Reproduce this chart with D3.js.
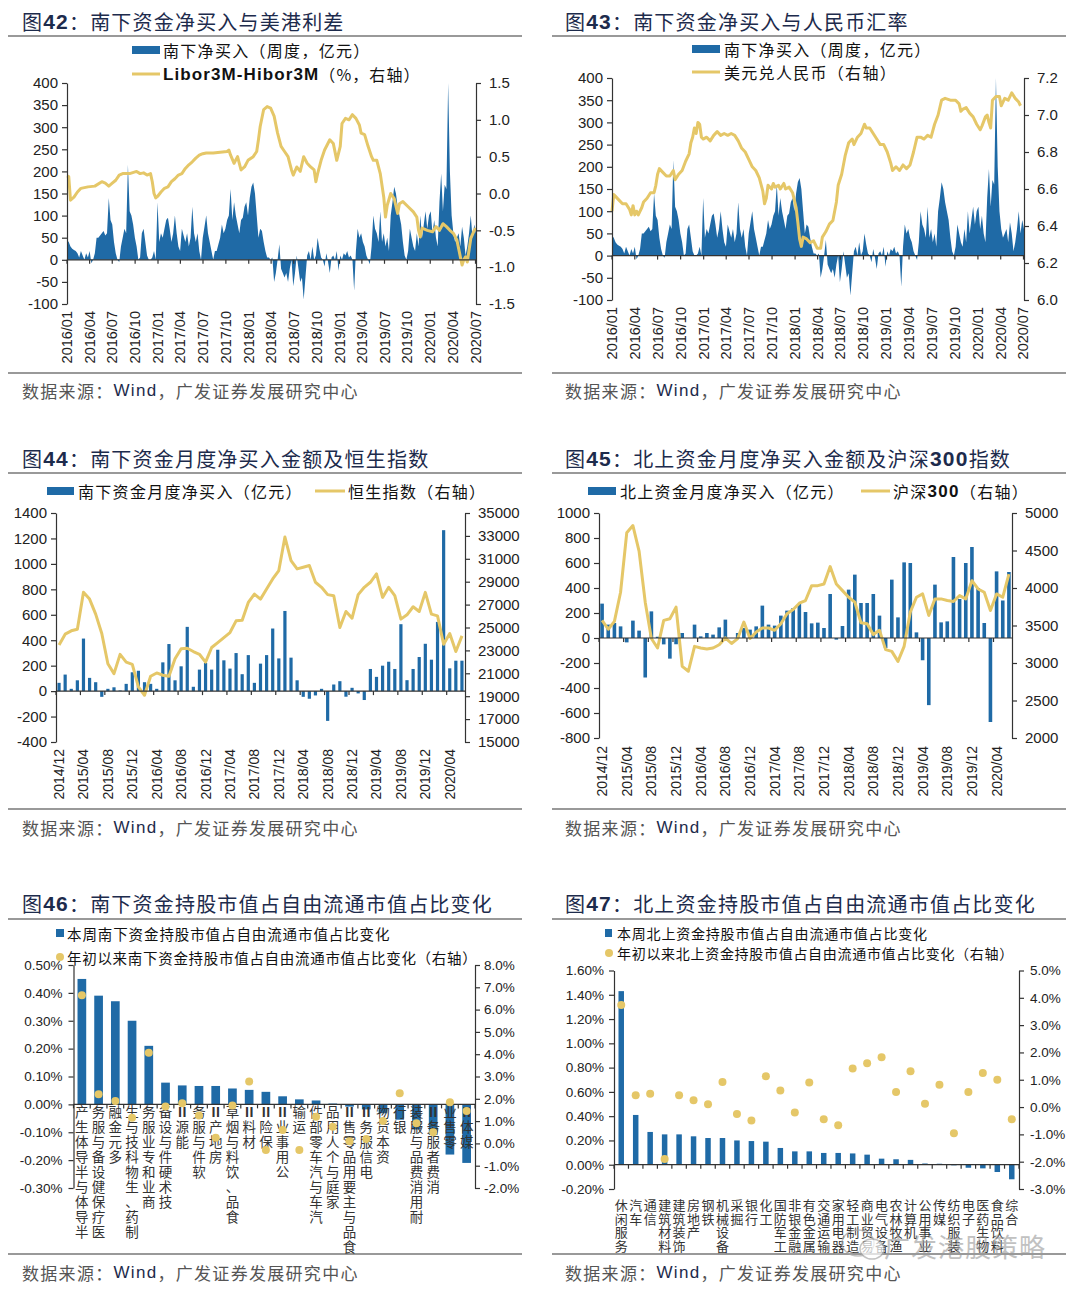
<!DOCTYPE html>
<html><head><meta charset="utf-8">
<script src="https://cdn.jsdelivr.net/npm/d3@7"></script>
<style>body{margin:0;background:#fff}svg{display:block}</style>
</head><body><svg id="c" width="1080" height="1293"></svg>
<script>
// ---------------- DATA ----------------
const quarterLabels = ["2016/01","2016/04","2016/07","2016/10","2017/01","2017/04","2017/07","2017/10","2018/01","2018/04","2018/07","2018/10","2019/01","2019/04","2019/07","2019/10","2020/01","2020/04","2020/07"];
// weekly southbound net buy (100m CNY), week 0 = first week of 2016
const weeklyNet = [
45,40,30,25,22,20,15,5,20,10,0,15,5,
20,-8,0,15,50,50,55,60,65,55,60,140,90,
80,40,15,0,-5,30,50,70,60,215,110,100,80,
50,30,0,5,60,70,40,10,0,0,5,20,0,
130,40,60,50,70,90,95,70,40,60,100,60,30,
20,70,55,40,60,30,50,120,60,40,60,20,0,
50,75,100,60,40,20,0,20,20,35,50,80,60,
70,90,100,160,90,130,100,80,60,90,95,120,130,
100,140,165,175,150,100,50,70,65,40,20,5,5,
0,5,-50,-30,0,35,-20,-30,-40,-30,-50,-20,0,
-60,-30,10,-20,-50,-40,-90,-40,10,20,0,30,0,
10,50,25,5,0,-15,15,-5,-30,5,10,0,20,
-25,10,0,15,10,20,5,10,0,-70,20,70,50,
60,40,30,10,0,-10,30,100,70,60,40,110,40,
60,30,50,20,100,130,165,150,120,100,80,40,10,
0,20,70,50,30,20,60,30,100,50,80,110,70,
100,110,60,90,50,30,130,195,110,170,160,400,200,
100,60,40,50,60,30,75,50,10,30,60,100,50,
80,60];
const liborWeek = [0,1,2,4,6,8,12,16,20,22,24,26,28,30,32,36,40,42,44,46,48,49,50,51,52,54,56,58,60,62,64,66,68,70,72,74,76,78,80,84,88,92,93,94,96,98,99,100,102,104,107,109,110,111,113,115,117,119,121,123,125,127,129,130,132,134,136,138,140,142,143,144,146,148,151,153,155,157,158,160,162,164,166,168,169,171,173,175,176,178,180,182,183,184,186,188,190,191,193,196,199,201,202,203,204,207,210,212,214,216,218,220,222,224,226,227,228,229,230,231,232,234,235];
const liborSpread = [0.24,0.23,-0.09,-0.05,0.02,0.07,0.09,0.10,0.16,0.14,0.10,0.14,0.18,0.25,0.27,0.27,0.30,0.27,0.28,0.25,0.27,0.16,0.0,-0.06,-0.04,0.02,0.07,0.09,0.16,0.20,0.25,0.27,0.34,0.39,0.43,0.48,0.52,0.54,0.55,0.55,0.56,0.57,0.59,0.52,0.41,0.50,0.41,0.32,0.36,0.45,0.50,0.57,0.73,0.91,1.14,1.18,1.16,1.05,0.82,0.64,0.57,0.50,0.32,0.25,0.36,0.30,0.50,0.41,0.36,0.32,0.16,0.27,0.45,0.59,0.73,0.68,0.45,0.64,0.95,1.02,1.00,1.07,1.02,0.93,0.82,0.80,0.64,0.50,0.45,0.45,0.27,-0.05,-0.32,-0.16,0.0,-0.07,-0.27,-0.14,-0.11,-0.18,-0.25,-0.32,-0.50,-0.59,-0.47,-0.50,-0.52,-0.45,-0.50,-0.41,-0.45,-0.50,-0.54,-0.63,-0.86,-0.97,-0.90,-0.86,-0.93,-0.77,-0.61,-0.50,-0.47];
const cnyWeek = [0,1,2,4,6,8,10,11,12,13,14,15,17,18,20,22,24,25,26,27,29,31,33,35,36,38,40,42,44,45,46,47,48,49,50,51,52,54,56,58,60,62,64,66,68,70,72,74,76,78,80,82,84,86,87,88,89,91,92,93,95,96,98,99,101,103,105,106,107,108,109,111,113,115,117,119,120,122,124,126,128,129,131,133,135,137,138,140,142,144,145,147,149,151,153,155,157,159,160,162,164,166,168,170,172,174,176,178,180,182,184,186,188,190,193,196,198,199,200,202,204,206,208,210,211,213,214,215,216,217,219,221,222,224,226,228,230,232,233];
const usdCny = [6.48,6.57,6.56,6.54,6.52,6.52,6.49,6.46,6.51,6.46,6.48,6.46,6.50,6.53,6.55,6.58,6.58,6.62,6.68,6.71,6.69,6.67,6.67,6.70,6.65,6.68,6.70,6.75,6.79,6.85,6.88,6.93,6.90,6.96,6.95,6.88,6.87,6.88,6.86,6.89,6.91,6.89,6.90,6.89,6.90,6.89,6.86,6.82,6.80,6.76,6.72,6.70,6.66,6.59,6.52,6.55,6.62,6.60,6.63,6.61,6.62,6.60,6.63,6.60,6.61,6.58,6.50,6.42,6.33,6.29,6.34,6.33,6.31,6.32,6.28,6.28,6.34,6.37,6.41,6.43,6.53,6.62,6.68,6.78,6.85,6.87,6.84,6.88,6.90,6.95,6.93,6.93,6.90,6.87,6.84,6.84,6.80,6.74,6.70,6.72,6.70,6.73,6.71,6.73,6.80,6.88,6.88,6.87,6.89,6.88,6.95,7.00,7.08,7.09,7.08,7.08,7.06,7.02,7.03,7.04,7.01,6.99,6.95,6.92,6.94,6.99,7.00,6.96,6.93,7.08,7.10,7.10,7.05,7.09,7.08,7.12,7.09,7.07,7.05];

// monthly: 2014/12 ... 2020/06 (67 months)
const monthTickLabels = ["2014/12","2015/04","2015/08","2015/12","2016/04","2016/08","2016/12","2017/04","2017/08","2017/12","2018/04","2018/08","2018/12","2019/04","2019/08","2019/12","2020/04"];
const southMonthly = [65,130,18,85,413,104,70,-45,18,30,5,57,148,160,70,57,18,226,370,85,195,505,34,169,221,169,325,242,177,299,133,283,65,216,283,492,257,630,263,85,-45,-60,-34,18,-234,52,78,-44,26,-18,-70,174,112,200,231,174,526,86,174,268,372,247,544,1265,179,239,239];
const hangSeng = [23480,24420,24710,24850,28070,27480,26170,24470,21840,20970,22650,21980,21780,19810,19080,20740,21030,20830,20740,22270,23150,23190,22900,22660,21980,23250,23680,24120,24560,25580,25640,27190,27920,27480,28360,29240,29970,32900,30850,30120,30260,30410,28950,28510,27870,27780,25000,26400,25820,27870,28510,28950,29680,27630,28510,27780,25730,26110,26810,26400,28070,26170,26020,23540,24470,22900,24270];
const northMonthly = [275,107,120,93,-35,139,59,-316,213,10,-51,-165,-50,40,0,107,13,40,27,85,147,0,40,80,67,93,259,107,99,179,219,240,272,208,117,123,80,352,-13,96,387,507,280,280,352,179,-80,467,165,605,600,45,-178,-537,427,125,133,648,312,600,728,400,120,-672,533,300,528];
const csi300 = [3568,3450,3555,3943,4736,4833,4493,3811,3326,3200,3568,3590,3745,2955,2890,3222,3200,3186,3200,3244,3335,3260,3326,3546,3326,3414,3467,3467,3436,3524,3656,3714,3797,3833,4031,4031,4053,4286,4053,3965,3877,3811,3537,3524,3379,3436,3178,3155,3022,3222,3678,3877,3921,3634,3855,3855,3833,3820,3899,3855,4097,3987,3943,3700,3921,3877,4185];

const cat46 = ["半导体与半导体生产","医疗保健设备与服务","多元金融","制药、生物科技与生","商业和专业服务","技术硬件与设备","能源Ⅱ","软件与服务","房地产Ⅱ","食品、饮料与烟草","材料Ⅱ","保险Ⅱ","公用事业Ⅱ","运输","汽车与汽车零部件","家庭与个人用品","食品与主要用品零售Ⅱ","电信服务Ⅱ","资本货物","银行","耐用消费品与服装","消费者服务Ⅱ","零售业","媒体Ⅱ"];
const week46 = [0.45,0.39,0.37,0.30,0.21,0.078,0.068,0.066,0.066,0.057,0.052,0.045,0.029,0.018,0.014,0.003,-0.008,-0.018,-0.032,-0.055,-0.09,-0.11,-0.18,-0.21];
const ytd46 = [6.64,2.2,1.9,1.15,4.07,1.65,1.8,1.25,0.25,1.7,2.78,-0.3,0.6,-0.3,1.2,0.75,0.1,0.2,1.0,2.25,0.9,0.5,1.85,1.45];

const cat47 = ["休闲服务","汽车","通信","建筑材料","建筑装饰","房地产","钢铁","机械设备","采掘","银行","化工","国防军工","非银金融","有色金属","交通运输","家用电器","轻工制造","商业贸易","电气设备","农林牧渔","计算机","公用事业","传媒","纺织服装","电子","医药生物","食品饮料","综合"];
const week47 = [1.43,0.41,0.27,0.25,0.25,0.234,0.22,0.22,0.20,0.195,0.19,0.138,0.11,0.11,0.097,0.097,0.093,0.083,0.05,0.045,0.04,0.01,0.008,-0.005,-0.025,-0.03,-0.06,-0.12];
const ytd47 = [3.74,0.43,0.49,-1.9,0.43,0.25,0.1,0.92,-0.25,-0.49,1.13,0.61,-0.2,0.9,-0.45,-0.67,1.41,1.6,1.82,0.55,1.31,0.12,0.82,-0.96,0.55,1.25,1.0,-0.45];

// ---------------- STYLE ----------------
const BLUE = "#1f6aa6", GOLD = "#e5c768", NAVY = "#1d2b4c", AX = "#333";
const CJK = "'Noto Sans CJK SC','Noto Sans CJK JP',sans-serif";
const LAT = "'Liberation Sans',Arial,sans-serif";
const svg = d3.select("#c");
svg.append("rect").attr("width",1080).attr("height",1293).attr("fill","#fff");

function rich(x, y, parts, size, opt) {
  opt = opt || {};
  const t = svg.append("text").attr("x", x).attr("y", y).attr("font-size", size)
    .attr("dominant-baseline", "central").attr("fill", opt.fill || "#111")
    .attr("letter-spacing", opt.ls || 0);
  parts.forEach(p => {
    const s = t.append("tspan").text(p.t).attr("font-family", p.lat ? LAT : CJK);
    if (p.b) s.attr("font-weight", "bold");
    if (p.fill) s.attr("fill", p.fill);
    if (p.size) s.attr("font-size", p.size);
  });
  return t;
}

function frame(x0, x1, tx, row, num, titleParts) {
  svg.append("line").attr("x1", x0).attr("x2", x1).attr("y1", row.r1).attr("y2", row.r1).attr("stroke", "#777").attr("stroke-width", 1.3);
  svg.append("line").attr("x1", x0).attr("x2", x1).attr("y1", row.r2).attr("y2", row.r2).attr("stroke", "#777").attr("stroke-width", 1.3);
  rich(tx, row.ty, [{t:"图"},{t:num,lat:true,b:true,size:21},{t:"："}].concat(titleParts), 20, {fill: NAVY, ls: 1.2});
  rich(tx, row.sy, [{t:"数据来源："},{t:"Wind",lat:true,fill:NAVY,size:17},{t:"，广发证券发展研究中心"}], 17, {fill:"#555", ls:1.3});
}

function styleAxis(g, size) {
  g.attr("font-family", LAT).attr("font-size", size);
  g.select(".domain").attr("stroke", AX).attr("stroke-width", 1.2);
  g.selectAll(".tick line").attr("stroke", AX).attr("stroke-width", 1.2);
  g.selectAll("text").attr("fill", "#222");
}

function axes(o) {
  const yL = d3.scaleLinear().domain(o.dL).range([o.B, o.T]);
  const yR = d3.scaleLinear().domain(o.dR).range([o.B, o.T]);
  return {yL, yR};
}
function drawAxes(o, yL, yR, tickXs, labelXs, labels) {
  const gl = svg.append("g").attr("transform", `translate(${o.L},0)`)
    .call(d3.axisLeft(yL).tickValues(o.tL).tickFormat(o.fL).tickSize(5).tickSizeOuter(0).tickPadding(o.padL || 4));
  styleAxis(gl, o.fs);
  const gr = svg.append("g").attr("transform", `translate(${o.R},0)`)
    .call(d3.axisRight(yR).tickValues(o.tR).tickFormat(o.fR).tickSize(5).tickSizeOuter(0).tickPadding(o.padR || 7));
  styleAxis(gr, o.fs);
  svg.append("line").attr("x1", o.L).attr("x2", o.R).attr("y1", yL(0)).attr("y2", yL(0)).attr("stroke", AX).attr("stroke-width", 1.2);
  tickXs.forEach(x => svg.append("line").attr("x1", x).attr("x2", x).attr("y1", yL(0)).attr("y2", yL(0) + 4).attr("stroke", AX).attr("stroke-width", 1.2));
  if (labels) labels.forEach((t, i) => svg.append("text")
    .attr("transform", `translate(${labelXs[i]},${o.labTop}) rotate(-90)`)
    .attr("text-anchor", "end").attr("dominant-baseline", "central")
    .attr("font-family", LAT).attr("font-size", o.fsx).attr("fill", "#222").text(t));
}

// ---------------- FRAMES ----------------
const rows = [
  {ty: 21, r1: 36, r2: 373, sy: 390},
  {ty: 458, r1: 473, r2: 809, sy: 827},
  {ty: 903, r1: 919, r2: 1254, sy: 1272}
];
frame(8, 522, 22, rows[0], "42", [{t:"南下资金净买入与美港利差"}]);
frame(552, 1066, 565, rows[0], "43", [{t:"南下资金净买入与人民币汇率"}]);
frame(8, 522, 22, rows[1], "44", [{t:"南下资金月度净买入金额及恒生指数"}]);
frame(552, 1066, 565, rows[1], "45", [{t:"北上资金月度净买入金额及沪深"},{t:"300",lat:true,b:true,size:21},{t:"指数"}]);
frame(8, 522, 22, rows[2], "46", [{t:"南下资金持股市值占自由流通市值占比变化"}]);
frame(552, 1066, 565, rows[2], "47", [{t:"北上资金持股市值占自由流通市值占比变化"}]);

// week offset of a quarter label
function weekOf(lbl) {
  const [y, m] = lbl.split("/").map(Number);
  return (Date.UTC(y, m - 1, 1) - Date.UTC(2016, 0, 1)) / (7 * 864e5);
}
const fInt = v => String(v);
const f1 = v => v.toFixed(1);

// ---------------- WEEKLY PANELS ----------------
function weeklyPanel(o, lineWeeks, lineVals) {
  const {yL, yR} = axes(o);
  const x = d3.scaleLinear().domain([0, 235]).range([o.L, o.R]);
  const area = d3.area().x((d, i) => x(i)).y0(yL(0)).y1(d => yL(d));
  svg.append("path").datum(weeklyNet).attr("d", area).attr("fill", BLUE);
  const line = d3.line().x(d => x(d[0])).y(d => yR(d[1]));
  svg.append("path").datum(lineWeeks.map((w, i) => [w, lineVals[i]])).attr("d", line)
    .attr("fill", "none").attr("stroke", GOLD).attr("stroke-width", 3).attr("stroke-linejoin", "round");
  const xs = quarterLabels.map(q => x(weekOf(q)));
  drawAxes(o, yL, yR, xs, xs, quarterLabels);
}
const tL42 = [-100,-50,0,50,100,150,200,250,300,350,400];
weeklyPanel({L:67, R:476, T:83, B:304, dL:[-100,400], dR:[-1.5,1.5], tL:tL42, tR:[-1.5,-1,-0.5,0,0.5,1,1.5], fL:fInt, fR:f1, fs:15, fsx:14.5, labTop:311, padR:8}, liborWeek, liborSpread);
weeklyPanel({L:612, R:1024, T:78, B:300, dL:[-100,400], dR:[6.0,7.2], tL:tL42, tR:[6.0,6.2,6.4,6.6,6.8,7.0,7.2], fL:fInt, fR:f1, fs:15, fsx:14.5, labTop:307, padR:8}, cnyWeek, usdCny);

// legends row 1
svg.append("rect").attr("x",132).attr("y",46).attr("width",28).attr("height",8).attr("fill",BLUE);
rich(163, 50, [{t:"南下净买入（周度，亿元）"}], 16, {ls:1.3});
svg.append("line").attr("x1",132).attr("x2",160).attr("y1",74).attr("y2",74).attr("stroke",GOLD).attr("stroke-width",3);
rich(163, 74, [{t:"Libor3M-Hibor3M",lat:true,b:true,size:17},{t:"（%，右轴）"}], 16, {ls:1.1});
svg.append("rect").attr("x",692).attr("y",45).attr("width",28).attr("height",8).attr("fill",BLUE);
rich(724, 49, [{t:"南下净买入（周度，亿元）"}], 16, {ls:1.3});
svg.append("line").attr("x1",692).attr("x2",720).attr("y1",72).attr("y2",72).attr("stroke",GOLD).attr("stroke-width",3);
rich(724, 72, [{t:"美元兑人民币（右轴）"}], 16, {ls:1.3});

// ---------------- MONTHLY PANELS ----------------
function monthlyPanel(o, bars, line) {
  const {yL, yR} = axes(o);
  const n = bars.length;
  const x = d3.scaleLinear().domain([-0.5, n - 0.5]).range([o.L, o.R]);
  svg.append("g").selectAll("rect").data(bars).join("rect")
    .attr("x", (d, i) => x(i) - o.bw / 2).attr("width", o.bw)
    .attr("y", d => Math.min(yL(d), yL(0))).attr("height", d => Math.abs(yL(d) - yL(0)))
    .attr("fill", BLUE);
  svg.append("path").datum(line).attr("d", d3.line().x((d, i) => x(i)).y(d => yR(d)))
    .attr("fill", "none").attr("stroke", GOLD).attr("stroke-width", 3).attr("stroke-linejoin", "round");
  const idx = monthTickLabels.map((_, k) => k * 4);
  drawAxes(o, yL, yR, idx.map(i => x(i - 0.5)), idx.map(i => x(i)), monthTickLabels);
}
monthlyPanel({L:56, R:465, T:513, B:742, dL:[-400,1400], dR:[15000,35000], tL:d3.range(-400,1401,200), tR:d3.range(15000,35001,2000), fL:fInt, fR:fInt, fs:15, fsx:14, labTop:749, bw:3.2, padR:8}, southMonthly, hangSeng);
monthlyPanel({L:599, R:1012, T:513, B:738, dL:[-800,1000], dR:[2000,5000], tL:d3.range(-800,1001,200), tR:d3.range(2000,5001,500), fL:fInt, fR:fInt, fs:15, fsx:14, labTop:746, bw:3.6, padR:8}, northMonthly, csi300);

// legends row 2
svg.append("rect").attr("x",47).attr("y",487).attr("width",27).attr("height",8).attr("fill",BLUE);
rich(78, 491, [{t:"南下资金月度净买入（亿元）"}], 16, {ls:1.3});
svg.append("line").attr("x1",315).attr("x2",345).attr("y1",491).attr("y2",491).attr("stroke",GOLD).attr("stroke-width",3);
rich(348, 491, [{t:"恒生指数（右轴）"}], 16, {ls:1.3});
svg.append("rect").attr("x",588).attr("y",487).attr("width",28).attr("height",8).attr("fill",BLUE);
rich(620, 491, [{t:"北上资金月度净买入（亿元）"}], 16, {ls:1.3});
svg.append("line").attr("x1",861).attr("x2",890).attr("y1",491).attr("y2",491).attr("stroke",GOLD).attr("stroke-width",3);
rich(893, 491, [{t:"沪深"},{t:"300",lat:true,b:true,size:17},{t:"（右轴）"}], 16, {ls:1.3});

// ---------------- CATEGORY PANELS ----------------
// vertical label with upright glyphs: one text element, glyphs rotated back individually
function vLabel(cx, y, str, fs, ls, bottomUp) {
  const t = svg.append("text").attr("font-family", CJK).attr("font-size", fs).attr("fill", "#333")
    .attr("letter-spacing", ls);
  if (bottomUp) {
    t.attr("transform", `translate(${cx - fs / 2},${y}) rotate(-90)`).attr("text-anchor", "end").attr("rotate", 90);
  } else {
    t.attr("transform", `translate(${cx - fs / 2},${y}) rotate(90)`).attr("text-anchor", "start").attr("rotate", -90);
  }
  Array.from(str).forEach(ch => {
    const s = t.append("tspan").text(ch);
    if (ch === "Ⅱ") s.attr("font-weight", "bold");
  });
}
function catPanel(o, cats, bars, dots) {
  const {yL, yR} = axes(o);
  const x = d3.scaleBand().domain(cats).range([o.L, o.R]);
  const bw = x.bandwidth() * o.ratio;
  svg.append("g").selectAll("rect").data(bars).join("rect")
    .attr("x", (d, i) => x(cats[i]) + (x.bandwidth() - bw) / 2).attr("width", bw)
    .attr("y", d => Math.min(yL(d), yL(0))).attr("height", d => Math.abs(yL(d) - yL(0)))
    .attr("fill", BLUE);
  const bounds = cats.map(c => x(c)).concat([o.R]);
  drawAxes(o, yL, yR, bounds, null, null);
  cats.forEach(c => vLabel(x(c) + x.bandwidth() / 2, o.lTop, c, o.lfs, o.lls, o.bottomUp));
  svg.append("g").selectAll("circle").data(dots).join("circle")
    .attr("cx", (d, i) => x(cats[i]) + x.bandwidth() / 2).attr("cy", d => yR(d)).attr("r", 4).attr("fill", GOLD);
}
const fp2 = v => v.toFixed(2) + "%";
const fp1 = v => v.toFixed(1) + "%";
catPanel({L:73.5, R:475, T:965, B:1188, dL:[-0.3,0.5], dR:[-2,8], tL:[-0.3,-0.2,-0.1,0,0.1,0.2,0.3,0.4,0.5], tR:d3.range(-2,8.01,1), fL:fp2, fR:fp1, fs:13.5, padL:6, padR:4, ratio:0.52, lfs:13.5, lls:1.5, lTop:1102, bottomUp:true}, cat46, week46, ytd46);
catPanel({L:614, R:1019, T:970.5, B:1189, dL:[-0.2,1.6], dR:[-3,5], tL:[-0.2,0,0.2,0.4,0.6,0.8,1.0,1.2,1.4,1.6], tR:d3.range(-3,5.01,1), fL:fp2, fR:fp1, fs:13.5, padL:5, padR:6, ratio:0.38, lfs:13, lls:0.5, lTop:1210, bottomUp:false}, cat47, week47, ytd47);

// legends row 3
svg.append("rect").attr("x",56).attr("y",929).attr("width",8).attr("height",8).attr("fill",BLUE);
rich(67, 933, [{t:"本周南下资金持股市值占自由流通市值占比变化"}], 14.5, {ls:0.9});
svg.append("circle").attr("cx",60).attr("cy",957).attr("r",4).attr("fill",GOLD);
rich(67, 957, [{t:"年初以来南下资金持股市值占自由流通市值占比变化（右轴）"}], 14.5, {ls:0.7});
svg.append("rect").attr("x",605).attr("y",929).attr("width",7).attr("height",8).attr("fill",BLUE);
rich(617, 933, [{t:"本周北上资金持股市值占自由流通市值占比变化"}], 14, {ls:0.8});
svg.append("circle").attr("cx",609).attr("cy",953).attr("r",4).attr("fill",GOLD);
rich(617, 953, [{t:"年初以来北上资金持股市值占自由流通市值占比变化（右轴）"}], 14, {ls:0.7});

// watermark
svg.append("ellipse").attr("cx",858).attr("cy",1243).attr("rx",16).attr("ry",13).attr("fill","none").attr("stroke","#aaa").attr("stroke-width",1.5).attr("opacity",0.7);
svg.append("ellipse").attr("cx",872).attr("cy",1249).attr("rx",12).attr("ry",10).attr("fill","#fff").attr("stroke","#aaa").attr("stroke-width",1.5).attr("opacity",0.7);
svg.append("text").attr("x",884).attr("y",1245).attr("dominant-baseline","central").attr("font-family",CJK)
  .attr("font-size",26).attr("fill","#999").attr("opacity",0.6).attr("letter-spacing",1).text("广发港股策略");
</script></body></html>
